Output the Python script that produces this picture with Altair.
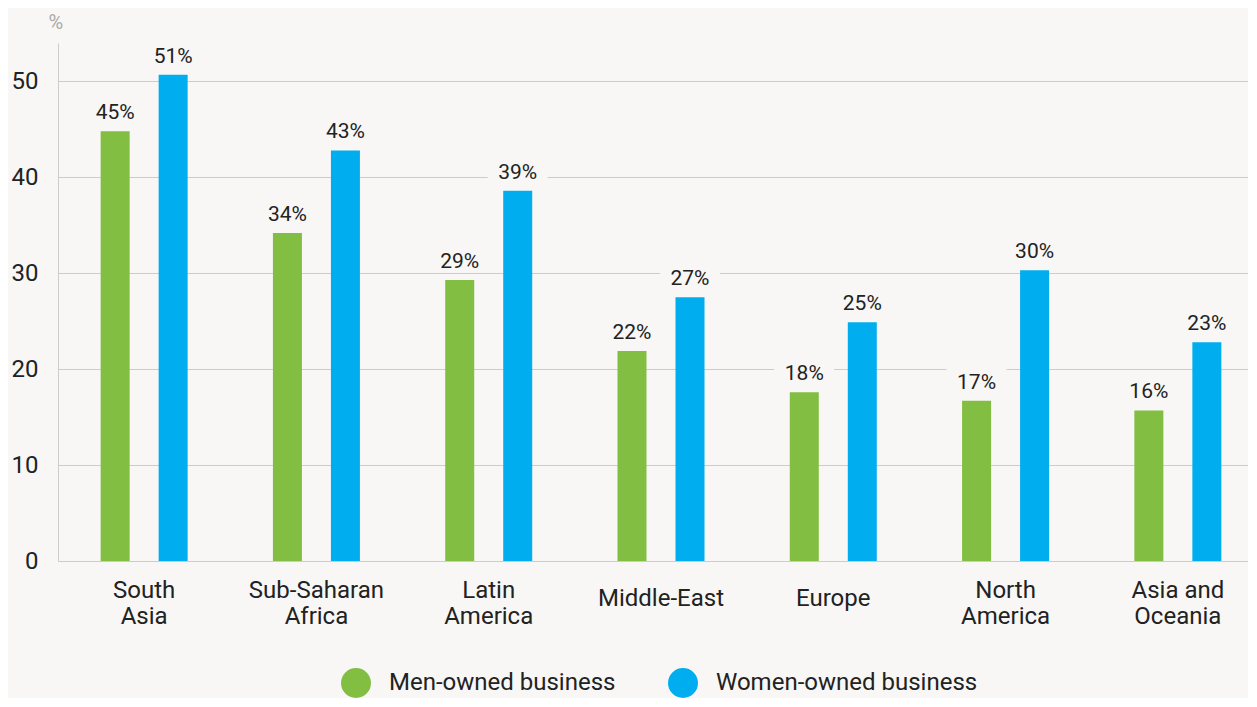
import altair as alt
import pandas as pd

regions = ["South Asia", "Sub-Saharan Africa", "Latin America", "Middle-East",
           "Europe", "North America", "Asia and Oceania"]
series = ["Men-owned business", "Women-owned business"]
men_values = [44.8, 34.2, 29.3, 21.9, 17.6, 16.7, 15.7]
women_values = [50.7, 42.8, 38.6, 27.5, 24.9, 30.3, 22.8]
men_labels = ["45%", "34%", "29%", "22%", "18%", "17%", "16%"]
women_labels = ["51%", "43%", "39%", "27%", "25%", "30%", "23%"]
y_ticks = [0, 10, 20, 30, 40, 50]
colors = ["#82be41", "#00aeef"]

rows = []
for i, r in enumerate(regions):
    rows.append({"region": r, "series": series[0], "value": men_values[i], "label": men_labels[i]})
    rows.append({"region": r, "series": series[1], "value": women_values[i], "label": women_labels[i]})
df = pd.DataFrame(rows)

BG = "#f8f7f5"
FONT = "Roboto"
TXT = "#222222"

x = alt.X("region:N", sort=regions,
          scale=alt.Scale(paddingInner=0.495, paddingOuter=0.2475, range=[0, 1206]),
          axis=alt.Axis(title=None, domain=False, ticks=False, labelAngle=0,
                        labelExpr="datum.label == 'Asia and Oceania' ? ['Asia and', 'Oceania'] : split(datum.label, ' ')",
                        labelFontSize=24, labelColor=TXT, labelFont=FONT,
                        labelBaseline="middle", labelLineHeight=26,
                        labelPadding={"condition": {"test": "datum.label == 'Middle-East' || datum.label == 'Europe'",
                                                    "value": 37},
                                      "value": 29}))
xo = alt.XOffset("series:N", sort=series, scale=alt.Scale(paddingInner=0.5, paddingOuter=0))
y = alt.Y("value:Q", scale=alt.Scale(domain=[0, 54], nice=False),
          axis=alt.Axis(title="%", values=y_ticks, ticks=False, labelPadding=20,
                        labelFontSize=24, labelColor=TXT, labelFont=FONT,
                        domainColor="#cccccc", gridColor="#cccccc",
                        titleAngle=0, titleAlign="left", titleBaseline="middle",
                        titleX=-10, titleY=-21, titleFontSize=20, titleFontWeight="normal",
                        titleColor="#aaaaaa", titleFont=FONT))

base = alt.Chart(df)

bgrect = base.mark_bar(width=60, color=BG, yOffset=-38, y2Offset=-8).encode(
    x=x, xOffset=xo, y=y, y2="value:Q")

bars = base.mark_bar().encode(
    x=x, xOffset=xo, y=y,
    color=alt.Color("series:N", sort=series,
                    scale=alt.Scale(domain=series, range=colors),
                    legend=alt.Legend(title=None, orient="none", direction="horizontal",
                                      legendX=283, legendY=625,
                                      symbolType="circle", symbolSize=900, symbolStrokeWidth=0,
                                      labelFontSize=24, labelColor=TXT, labelFont=FONT,
                                      labelLimit=0, labelOffset=18, columnPadding=52)))

text = base.mark_text(dy=-12, baseline="alphabetic", fontSize=21, font=FONT, color=TXT).encode(
    x=x, xOffset=xo, y=y, text="label:N")

chart = alt.layer(bgrect, bars, text).properties(
    width=1190, height=518,
    padding={"left": 50, "top": 35, "right": 0, "bottom": 137},
    autosize=alt.AutoSizeParams(type="none"),
    background=BG,
).configure_view(stroke=None)

chart.save("out.html", embed_options={"renderer": "svg", "actions": False})
